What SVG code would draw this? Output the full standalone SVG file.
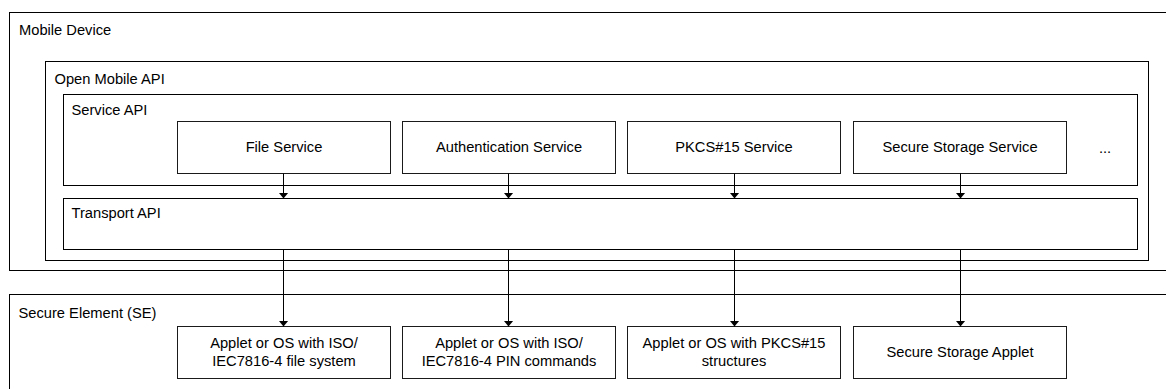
<svg xmlns="http://www.w3.org/2000/svg" width="1166" height="389" viewBox="0 0 1166 389">
  <style>
    .frame { fill: #ffffff; stroke: #000000; stroke-width: 1; }
    .box { fill: #ffffff; stroke: #1a1a1a; stroke-width: 1; }
    .title { font-family: "Liberation Sans", Arial, sans-serif; font-size: 14.7px; fill: #000000; }
    .label { font-family: "Liberation Sans", Arial, sans-serif; font-size: 14.7px; fill: #000000; text-anchor: middle; }
    .link { stroke: #000000; stroke-width: 1; fill: none; marker-end: url(#arrow); }
  </style>
  <defs>
    <marker id="arrow" markerUnits="userSpaceOnUse" viewBox="0 0 6 10" markerWidth="6" markerHeight="10" refX="6" refY="5" orient="auto">
      <path d="M0,0 L6,5 L0,10 Z" fill="#000000"/>
    </marker>
  </defs>

  <rect width="1166" height="389" fill="#ffffff"/>

  <!-- Mobile device container -->
  <g id="mobile-device">
    <rect class="frame" x="9.5" y="12.5" width="1170" height="258"/>
    <text class="title" x="19" y="34.7">Mobile Device</text>
  </g>

  <!-- Open Mobile API layer -->
  <g id="open-mobile-api">
    <rect class="frame" x="45.5" y="61.5" width="1103" height="199"/>
    <text class="title" x="54.5" y="84">Open Mobile API</text>
  </g>

  <g id="service-api">
    <rect class="frame" x="63.5" y="94.5" width="1074" height="91"/>
    <text class="title" x="71.5" y="115">Service API</text>
    <text class="label" x="1105" y="153">...</text>
  </g>

  <g id="transport-api">
    <rect class="frame" x="63.5" y="198.5" width="1074" height="51"/>
    <text class="title" x="71.5" y="218.3">Transport API</text>
  </g>

  <!-- Services -->
  <g id="file-service">
    <rect class="box" x="177.5" y="121.5" width="213" height="52"/>
    <text class="label" x="284" y="152.3">File Service</text>
  </g>
  <g id="authentication-service">
    <rect class="box" x="402.5" y="121.5" width="213" height="52"/>
    <text class="label" x="509" y="152.3">Authentication Service</text>
  </g>
  <g id="pkcs15-service">
    <rect class="box" x="627.5" y="121.5" width="213" height="52"/>
    <text class="label" x="734" y="152.3">PKCS#15 Service</text>
  </g>
  <g id="secure-storage-service">
    <rect class="box" x="853.5" y="121.5" width="213" height="52"/>
    <text class="label" x="960" y="152.3">Secure Storage Service</text>
  </g>

  <!-- Secure element container -->
  <g id="secure-element">
    <rect class="frame" x="9.5" y="294.5" width="1170" height="110"/>
    <text class="title" x="18.5" y="317.7">Secure Element (SE)</text>
  </g>

  <!-- Applets on the secure element -->
  <g id="file-applet">
    <rect class="box" x="177.5" y="326.5" width="213" height="52"/>
    <text class="label" x="284" y="348.3">Applet or OS with ISO/</text>
    <text class="label" x="284" y="365.7">IEC7816-4 file system</text>
  </g>
  <g id="pin-applet">
    <rect class="box" x="402.5" y="326.5" width="213" height="52"/>
    <text class="label" x="509" y="348.3">Applet or OS with ISO/</text>
    <text class="label" x="509" y="365.7">IEC7816-4 PIN commands</text>
  </g>
  <g id="pkcs15-applet">
    <rect class="box" x="627.5" y="326.5" width="213" height="52"/>
    <text class="label" x="734" y="348.3">Applet or OS with PKCS#15</text>
    <text class="label" x="734" y="365.7">structures</text>
  </g>
  <g id="secure-storage-applet">
    <rect class="box" x="853.5" y="326.5" width="213" height="52"/>
    <text class="label" x="960" y="357.3">Secure Storage Applet</text>
  </g>

  <!-- Connectors -->
  <g id="connectors">
    <line class="link" x1="283.5" y1="173.5" x2="283.5" y2="198.5"/>
    <line class="link" x1="508.5" y1="173.5" x2="508.5" y2="198.5"/>
    <line class="link" x1="734.5" y1="173.5" x2="734.5" y2="198.5"/>
    <line class="link" x1="960.5" y1="173.5" x2="960.5" y2="198.5"/>
    <line class="link" x1="283.5" y1="249.5" x2="283.5" y2="326.5"/>
    <line class="link" x1="508.5" y1="249.5" x2="508.5" y2="326.5"/>
    <line class="link" x1="734.5" y1="249.5" x2="734.5" y2="326.5"/>
    <line class="link" x1="960.5" y1="249.5" x2="960.5" y2="326.5"/>
  </g>
</svg>
